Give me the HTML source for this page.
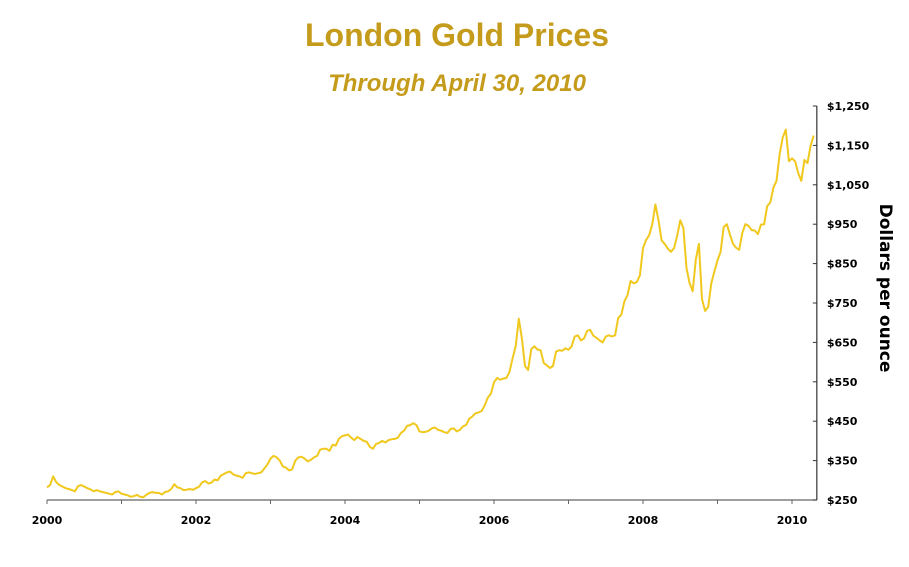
<!DOCTYPE html>
<html><head><meta charset="utf-8"><style>
html,body{margin:0;padding:0;background:#fff;width:909px;height:567px;overflow:hidden}
svg{display:block;font-family:"Liberation Sans",sans-serif}
</style></head><body>
<svg id="chart" width="909" height="567">
<text x="457" y="46" text-anchor="middle" font-size="32" font-weight="bold" fill="#C59B1C">London Gold Prices</text>
<text x="457" y="91" text-anchor="middle" font-size="24" font-weight="bold" font-style="italic" fill="#C59B1C">Through April 30, 2010</text>
<text transform="translate(880,288) rotate(90)" text-anchor="middle" font-size="17" font-weight="bold" fill="#000" style="font-family:'DejaVu Sans',sans-serif">Dollars per ounce</text>
<g id="axes" style="font-family:'DejaVu Sans',sans-serif"></g>
<g id="series"></g>
</svg>
<script>
const years = [2000,2002,2004,2006,2008,2010];
const yTicks = [250,350,450,550,650,750,850,950,1050,1150,1250];
const yTickLabels = ["$250","$350","$450","$550","$650","$750","$850","$950","$1,050","$1,150","$1,250"];
const startYear = 2000;
// half-monthly prices, Jan 2000 .. Apr 2010
const prices = [
282,288,310,295,288,284,280,278,275,272,285,288,284,280,277,272,275,272,270,268,266,264,270,272,
266,264,262,258,260,263,258,257,263,268,270,268,268,264,270,272,278,290,282,280,275,276,278,276,
280,284,295,298,292,294,302,300,312,316,320,322,315,312,310,306,318,320,318,316,318,320,330,340,
355,362,358,350,335,332,325,328,350,358,360,355,348,352,358,362,378,380,380,375,390,388,405,412,
414,416,408,402,410,405,400,398,385,380,392,395,400,396,402,404,405,408,420,426,438,440,445,440,
424,422,423,426,432,434,428,426,422,420,430,432,424,428,437,440,456,462,470,472,476,490,510,520,
549,560,555,558,560,575,610,640,710,660,590,580,633,640,632,630,598,592,585,590,627,630,629,635,
631,640,665,668,655,660,679,682,667,662,655,650,665,668,665,668,712,720,754,770,806,800,803,820,
889,910,922,950,1000,960,909,900,888,880,889,920,960,940,839,800,780,860,900,760,730,740,800,830,
858,880,943,950,924,900,890,885,928,950,946,935,934,925,949,950,996,1005,1043,1060,1127,1170,1190,1110,
1117,1110,1080,1060,1113,1105,1149,1175
];
const x0 = 47, pxPerYear = 74.5, yBase = 500, pxPerDollar = 0.394;
function xScale(t){ return x0 + (t - startYear) * pxPerYear; }
function yScale(v){ return yBase - (v - 250) * pxPerDollar; }
const NS = "http://www.w3.org/2000/svg";
const axes = document.getElementById("axes");
const series = document.getElementById("series");
const xEnd = xScale(2010 + 4/12);
const xAxis = document.createElementNS(NS,"line");


xAxis.setAttribute("x1",x0);xAxis.setAttribute("x2",xEnd);xAxis.setAttribute("y1",yBase);xAxis.setAttribute("y2",yBase);
xAxis.setAttribute("stroke","#666");xAxis.setAttribute("stroke-width","1.3");
axes.appendChild(xAxis);
for(let y=2000;y<=2010;y++){
  const t=document.createElementNS(NS,"line");
  
  
  const xx=xScale(y);
  t.setAttribute("x1",xx);t.setAttribute("x2",xx);t.setAttribute("y1",yBase);t.setAttribute("y2",yBase+4);
  t.setAttribute("stroke","#666");axes.appendChild(t);
}
years.forEach(y=>{
  const l=document.createElementNS(NS,"text");
  
  
  l.setAttribute("x",xScale(y));l.setAttribute("y",yBase+24);l.setAttribute("text-anchor","middle");
  l.setAttribute("font-size","11");l.setAttribute("font-weight","bold");l.textContent=y;axes.appendChild(l);
});
const yAxis = document.createElementNS(NS,"line");


yAxis.setAttribute("x1",xEnd);yAxis.setAttribute("x2",xEnd);yAxis.setAttribute("y1",yScale(1250));yAxis.setAttribute("y2",yBase);
yAxis.setAttribute("stroke","#333");yAxis.setAttribute("stroke-width","1.2");
axes.appendChild(yAxis);
yTicks.forEach((v,i)=>{
  const t=document.createElementNS(NS,"line");
  
  
  t.setAttribute("x1",xEnd-4);t.setAttribute("x2",xEnd);t.setAttribute("y1",yScale(v));t.setAttribute("y2",yScale(v));
  t.setAttribute("stroke","#333");axes.appendChild(t);
  const l=document.createElementNS(NS,"text");
  
  
  l.setAttribute("x",xEnd+10);l.setAttribute("y",yScale(v)+4);l.setAttribute("font-size","11");l.setAttribute("font-weight","bold");
  l.textContent=yTickLabels[i];axes.appendChild(l);
});
const pts = prices.map((p,i)=>xScale(startYear + i/24).toFixed(1)+","+yScale(p).toFixed(1)).join(" ");
const line=document.createElementNS(NS,"polyline");


line.setAttribute("points",pts);line.setAttribute("fill","none");
line.setAttribute("stroke","#F0C81E");line.setAttribute("stroke-width","2");line.setAttribute("stroke-linejoin","round");
series.appendChild(line);
</script>
</body></html>
